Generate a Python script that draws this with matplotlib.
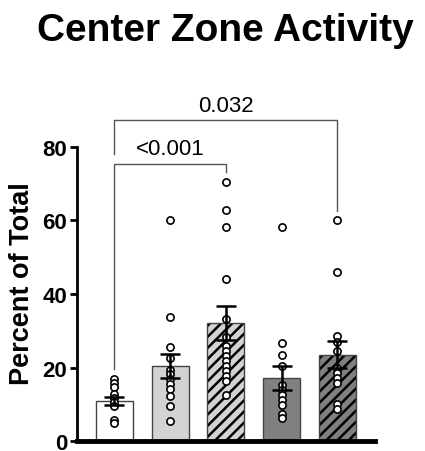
import matplotlib
matplotlib.use("Agg")
import matplotlib.pyplot as plt
import numpy as np

plt.rcParams['font.family'] = ['Liberation Sans', 'DejaVu Sans']
plt.rcParams['hatch.linewidth'] = 1.8

# group summary values (mean and SEM)
means = [10.9, 20.4, 32.1, 17.1, 23.5]
sems = [1.0, 3.3, 4.7, 3.2, 3.6]

# individual animals per group
pts_g1 = [16.9, 15.8, 14.7, 12.7, 11.6, 10.7, 9.6, 5.6, 4.9]
pts_g2 = [60.2, 33.7, 25.5, 22.7, 19.4, 18.2, 16.9, 15.5, 14.1, 12.3, 9.6, 5.5]
pts_g3 = [70.4, 62.8, 58.1, 44.1, 33.2, 28.2, 25.9, 24.6, 23.2, 21.9,
          20.5, 19.1, 17.8, 16.2, 12.6]
pts_g4 = [58.1, 26.8, 23.5, 20.3, 15.2, 14.0, 12.6, 11.2, 9.8, 7.3, 6.3]
pts_g5 = [60.2, 46.1, 28.5, 26.9, 24.4, 19.9, 18.4, 17.1, 15.8, 10.0, 8.7]
points = [pts_g1, pts_g2, pts_g3, pts_g4, pts_g5]

# comparisons: (group a, group b, p label)
comparisons = [(0, 2, "<0.001"), (0, 4, "0.032")]

fills = ['white', '#d3d3d3', '#d3d3d3', '#808080', '#808080']
hatches = [None, None, '///', None, '///']

fig = plt.figure(figsize=(4.25, 4.52), dpi=100)
ax = fig.add_axes([0.181, 0.0221, 0.701, 0.6505])

x = np.arange(len(means))
for i in range(len(means)):
    # fill + black hatch first, then the grey outline on top
    ax.bar(x[i], means[i], width=0.66, color=fills[i], edgecolor='black',
           linewidth=0, hatch=hatches[i], zorder=1)
    ax.bar(x[i], means[i], width=0.66, fill=False, edgecolor='#444444',
           linewidth=1.0, zorder=1.5)

for i, vals in enumerate(points):
    ax.plot([x[i]] * len(vals), vals, 'o', ms=5.2, mfc='white', mec='black',
            mew=1.2, zorder=3, clip_on=False)

ax.errorbar(x, means, yerr=sems, fmt='none', ecolor='black', elinewidth=1.8,
            capsize=7, capthick=1.8, zorder=4)

# significance brackets
br_color = '#555555'
a, b, lab = comparisons[0]
ax.plot([x[a], x[a], x[b], x[b]], [19.6, 75.4, 75.4, 73.1], color=br_color,
        lw=1.0, clip_on=False)
ax.text((x[a] + x[b]) / 2, 78.2, lab, ha='center', va='baseline', fontsize=16)
a, b, lab = comparisons[1]
ax.plot([x[a], x[a], x[b], x[b]], [78.1, 87.4, 87.4, 62.7], color=br_color,
        lw=1.0, clip_on=False)
ax.text((x[a] + x[b]) / 2, 89.9, lab, ha='center', va='baseline', fontsize=16)

ax.set_xlim(-0.67, 4.67)
ax.set_ylim(0, 80)
ax.set_yticks([0, 20, 40, 60, 80])
ax.set_xticks([])
for lbl in ax.get_yticklabels():
    lbl.set_fontweight('bold')
ax.tick_params(axis='y', labelsize=16, width=2, length=5, pad=2)
ax.spines['top'].set_visible(False)
ax.spines['right'].set_visible(False)
ax.spines['left'].set_linewidth(2)
ax.spines['bottom'].set_linewidth(3.5)
ax.set_ylabel('Percent of Total', fontsize=19.5, fontweight='bold')
ax.yaxis.set_label_coords(-0.142, 0.537)

fig.text(0.53, 0.932, 'Center Zone Activity', ha='center', va='center',
         fontsize=28, fontweight='bold')

fig.savefig('out.png', dpi=100)
